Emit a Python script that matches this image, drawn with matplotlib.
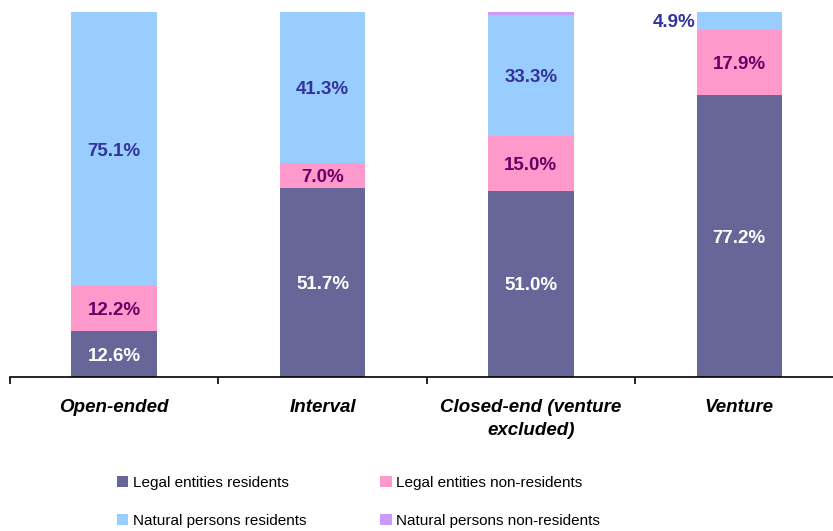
import matplotlib
matplotlib.use("Agg")
import matplotlib.pyplot as plt
from matplotlib.patches import Patch
import numpy as np

plt.rcParams['font.family'] = ['Liberation Sans', 'DejaVu Sans']

categories = ["Open-ended", "Interval", "Closed-end (venture\nexcluded)", "Venture"]
legal_res = [12.6, 51.7, 51.0, 77.2]
legal_nonres = [12.2, 7.0, 15.0, 17.9]
natural_res = [75.1, 41.3, 33.3, 4.9]
natural_nonres = [0.1, 0.0, 0.7, 0.0]

series_names = ["Legal entities residents", "Legal entities non-residents",
                "Natural persons residents", "Natural persons non-residents"]
colors = ["#666699", "#FF99CC", "#99CCFF", "#CC99FF"]
label_colors = ["white", "#660066", "#333399", None]

fig = plt.figure(figsize=(8.33, 5.31), dpi=100)
ax = fig.add_axes([10/833, 1-377/531, 1-10/833, (377-12)/531])

x = np.arange(len(categories))
width = 0.41
bottom = np.zeros(len(categories))
series = [legal_res, legal_nonres, natural_res, natural_nonres]
for vals, col, lc in zip(series, colors, label_colors):
    vals = np.array(vals)
    ax.bar(x, vals, width, bottom=bottom, color=col, edgecolor='none')
    if lc is not None:
        for i, v in enumerate(vals):
            if v <= 0:
                continue
            if v < 6:
                ax.text(x[i] - width/2 - 0.005, bottom[i] + v/2, f"{v:.1f}%",
                        ha='right', va='center_baseline', color=lc, fontsize=13.5, fontweight='bold')
            else:
                ax.text(x[i], bottom[i] + v/2, f"{v:.1f}%", ha='center', va='center_baseline',
                        color=lc, fontsize=13.5, fontweight='bold')
    bottom += vals

ax.set_xlim(-0.5, 3.45)
ax.set_ylim(0, 100)
for s in ['left', 'right', 'top']:
    ax.spines[s].set_visible(False)
ax.spines['bottom'].set_linewidth(1.2)
ax.set_yticks([])
ax.set_xticks([-0.5, 0.5, 1.5, 2.5])
ax.set_xticklabels([])
ax.tick_params(axis='x', which='major', length=5, width=1.2, direction='out')
ax.set_xticks(x, minor=True)
ax.set_xticklabels(categories, minor=True, fontsize=13.5, fontweight='bold', style='italic',
                   linespacing=1.45)
ax.tick_params(axis='x', which='minor', length=0, pad=16)

handles = [Patch(facecolor=c, edgecolor='none') for c in colors]
order = [0, 2, 1, 3]
fig.legend([handles[i] for i in order], [series_names[i] for i in order], ncol=2,
           loc='center left', bbox_to_anchor=(103/833, 1-502/531), frameon=False,
           fontsize=11, handlelength=0.75, handleheight=0.75, handletextpad=0.3,
           columnspacing=4.85, labelspacing=1.55)

fig.savefig("out.png", dpi=100)
